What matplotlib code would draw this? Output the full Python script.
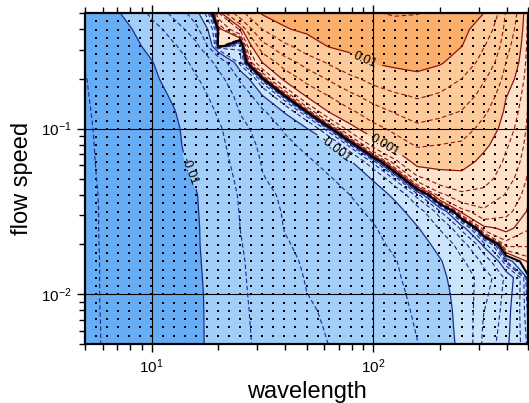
import numpy as np
import matplotlib
matplotlib.use('Agg')
import matplotlib.pyplot as plt
from matplotlib.ticker import LogLocator, NullFormatter

plt.rcParams['font.family'] = ['Liberation Sans', 'DejaVu Sans']
plt.rcParams['lines.dashed_pattern'] = [4.0, 2.4]

# ---------------------------------------------------------------------------
# Data: growth rate (units of 1e-3) sampled on a log grid
# ---------------------------------------------------------------------------

wavelength = [5.0, 6.31, 7.94, 10.0, 12.6, 15.8, 20.0, 25.1, 31.6, 39.8, 50.1,
              63.1, 79.4, 100.0, 126, 158, 200, 251, 316, 398, 500]

# rows listed from the top of the plot (fast flow) down to the bottom
speed = [0.5, 0.398, 0.316, 0.251, 0.2, 0.158, 0.126, 0.1, 0.0794, 0.0631,
         0.0501, 0.0398, 0.0316, 0.0251, 0.02, 0.0158, 0.0126, 0.01, 0.00794,
         0.00631, 0.005]

rate_e3 = [
    [-14.8, -11.8, -8.55, -4.73, -2.51, -1.21, 0.5, 4.5, 10.6, 11.8, 13.1, 14.5, 15.9, 17.5, 18.4, 18.0, 16.5, 12.5, 10.0, 2.9, 0.5],
    [-15.5, -12.8, -10.4, -6.93, -4.15, -2.05, 0.02, 0.6, 5.6, 9.6, 11.0, 12.2, 13.4, 14.5, 15.5, 15.9, 14.0, 11.2, 7.5, 2.5, 0.47],
    [-16.5, -13.7, -11.3, -8.75, -5.94, -3.61, 0.1, -0.3, 2.43, 4.8, 7.6, 10.3, 11.3, 12.3, 13.1, 13.5, 12.0, 10.1, 5.8, 2.1, 0.44],
    [-17.5, -14.6, -12.2, -10.2, -7.23, -4.79, -2.61, -0.36, 1.0, 2.3, 3.9, 6.0, 8.45, 10.3, 11.0, 11.3, 10.5, 7.6, 4.4, 1.75, 0.4],
    [-18.0, -15.2, -12.8, -10.8, -8.3, -5.9, -3.72, -1.57, -0.046, 1.16, 2.1, 3.34, 4.9, 6.7, 8.2, 9.1, 7.6, 5.6, 3.35, 1.35, 0.37],
    [-18.2, -15.6, -13.3, -11.4, -9.45, -6.8, -4.48, -2.53, -1.02, -0.0075, 1.08, 1.8, 2.8, 4.0, 5.1, 6.0, 5.2, 4.1, 2.5, 1.03, 0.33],
    [-18.4, -15.9, -13.7, -11.8, -10.2, -7.5, -5.28, -3.08, -1.94, -0.95, -0.018, 1.0, 1.6, 2.4, 3.3, 4.1, 3.6, 3.05, 1.94, 0.85, 0.3],
    [-18.6, -16.1, -14.1, -12.2, -10.6, -8.3, -6.0, -3.64, -2.43, -1.64, -1.03, -0.103, 0.81, 1.45, 2.05, 2.74, 2.5, 2.2, 1.46, 0.72, 0.27],
    [-18.7, -16.3, -14.2, -12.4, -10.7, -8.65, -6.33, -4.11, -2.76, -2.06, -1.5, -1.045, -0.168, 0.69, 1.32, 1.87, 1.75, 1.65, 1.12, 0.6, 0.24],
    [-18.8, -16.4, -14.4, -12.5, -10.9, -9.03, -6.64, -4.56, -3.03, -2.41, -1.94, -1.45, -1.02, -0.235, 0.46, 1.24, 1.2, 1.2, 0.85, 0.5, 0.2],
    [-18.9, -16.6, -14.5, -12.8, -11.2, -9.7, -7.03, -4.95, -3.24, -2.65, -2.21, -1.85, -1.37, -0.94, -0.228, 0.46, 0.8, 0.85, 0.68, 0.4, 0.16],
    [-19.0, -16.8, -14.8, -13.1, -11.6, -10.2, -7.5, -5.3, -3.64, -2.84, -2.43, -2.07, -1.76, -1.29, -0.87, -0.218, 0.25, 0.5, 0.48, 0.3, 0.12],
    [-19.0, -16.9, -14.9, -13.2, -11.7, -10.3, -7.75, -5.47, -3.94, -2.99, -2.6, -2.26, -1.96, -1.62, -1.19, -0.715, -0.186, 0.12, 0.28, 0.21, 0.09],
    [-19.0, -16.9, -14.9, -13.2, -11.7, -10.4, -7.9, -5.61, -4.16, -3.11, -2.73, -2.39, -2.1, -1.84, -1.41, -1.035, -0.524, -0.13, 0.08, 0.12, 0.06],
    [-19.1, -16.9, -15.0, -13.3, -11.8, -10.4, -8.1, -5.75, -4.36, -3.28, -2.84, -2.5, -2.2, -1.95, -1.63, -1.22, -0.835, -0.383, -0.069, 0.04, 0.035],
    [-19.1, -17.0, -15.1, -13.4, -11.9, -10.5, -8.25, -5.89, -4.55, -3.52, -2.95, -2.61, -2.31, -2.04, -1.81, -1.39, -1.04, -0.611, -0.247, -0.018, 0.012],
    [-19.1, -17.0, -15.1, -13.5, -12.0, -10.6, -8.38, -5.94, -4.68, -3.72, -3.06, -2.71, -2.39, -2.11, -1.87, -1.49, -1.11, -0.748, -0.407, -0.144, -0.002],
    [-19.1, -17.0, -15.2, -13.5, -12.0, -10.7, -8.5, -6.0, -4.79, -3.89, -3.18, -2.8, -2.47, -2.18, -1.93, -1.6, -1.18, -0.78, -0.36, -0.13, -0.008],
    [-19.2, -17.0, -15.2, -13.5, -12.0, -10.7, -8.59, -6.07, -4.88, -4.04, -3.37, -2.91, -2.55, -2.24, -1.97, -1.68, -1.24, -0.8, -0.32, -0.12, -0.013],
    [-19.2, -17.1, -15.2, -13.5, -12.0, -10.7, -8.63, -6.12, -4.96, -4.17, -3.52, -3.02, -2.64, -2.31, -2.01, -1.74, -1.27, -0.82, -0.28, -0.115, -0.019],
    [-19.2, -17.1, -15.2, -13.5, -12.0, -10.7, -8.69, -6.18, -5.03, -4.27, -3.66, -3.14, -2.73, -2.37, -2.06, -1.79, -1.32, -0.84, -0.25, -0.11, -0.025],
]

# ---------------------------------------------------------------------------
# Styling
# ---------------------------------------------------------------------------

band_edges = [-1, -1e-2, -1e-3, 0, 1e-3, 1e-2, 1]
band_colors = ['#66adf5', '#a1cffa', '#cae5fb', '#fee3c8', '#fdca99', '#faae69']
neg_color = '#1c2a8c'
pos_color = '#8e1616'

exps = np.arange(-20, -6) / 4.0          # quarter-decade contour steps
dash_mag = [10.0 ** e for e in exps if e != int(e)]
small_mag = [1e-5, 1e-4]                  # solid, unlabelled
label_mag = [1e-3, 1e-2]                  # solid, labelled

wl = np.array(wavelength)
sp = np.array(speed)[::-1]
rate = np.array(rate_e3)[::-1] * 1e-3

fig = plt.figure(figsize=(5.29, 4.03), dpi=100)
ax = fig.add_axes([85 / 529, 59 / 403, 443 / 529, 331 / 403])
ax.set_xscale('log')
ax.set_yscale('log')

ax.contourf(wl, sp, rate, levels=band_edges, colors=band_colors, zorder=1)

# sample points of the underlying run
gx, gy = np.meshgrid(np.logspace(np.log10(5), np.log10(500), 41),
                     np.logspace(np.log10(0.005), np.log10(0.5), 41))
ax.plot(gx.ravel(), gy.ravel(), 's', ms=1.45, mew=0, color='k',
        antialiased=False, zorder=2)

ax.grid(True, which='major', color='k', lw=0.8, zorder=3)
ax.set_axisbelow(False)


def lines(levels, color, style, lw):
    return ax.contour(wl, sp, rate, levels=sorted(levels), colors=color,
                      linestyles=style, linewidths=lw, zorder=4)


lines([-m for m in dash_mag], neg_color, 'dashed', 0.8)
lines(dash_mag, pos_color, 'dashed', 0.8)
lines([-m for m in small_mag], neg_color, 'solid', 0.9)
lines(small_mag, pos_color, 'solid', 0.9)
cs_neg = lines([-m for m in label_mag], neg_color, 'solid', 0.9)
cs_pos = lines(label_mag, pos_color, 'solid', 0.9)
ax.contour(wl, sp, rate, levels=[0], colors='k', linewidths=1.5, zorder=5)

fmt = lambda v: f"{v:.2g}"
ax.clabel(cs_neg, fmt=fmt, fontsize=9, colors='k', inline=True,
          manual=[(15.3, 0.0564), (68, 0.0766)])
ax.clabel(cs_pos, fmt=fmt, fontsize=9, colors='k', inline=True,
          manual=[(111, 0.0776), (88.5, 0.233)])

ax.set_xlim(5, 500)
ax.set_ylim(0.005, 0.5)
ax.xaxis.set_major_locator(LogLocator(base=10, numticks=10))
ax.yaxis.set_major_locator(LogLocator(base=10, numticks=10))
ax.xaxis.set_minor_locator(LogLocator(base=10, subs=np.arange(2, 10), numticks=20))
ax.yaxis.set_minor_locator(LogLocator(base=10, subs=np.arange(2, 10), numticks=20))
ax.xaxis.set_minor_formatter(NullFormatter())
ax.yaxis.set_minor_formatter(NullFormatter())
ax.tick_params(which='both', direction='out', top=True, right=True, width=1.0,
               labelsize=11, color='k')
ax.tick_params(which='major', length=6)
ax.tick_params(which='minor', length=4)
for s in ax.spines.values():
    s.set_linewidth(1.6)
    s.set_zorder(6)

ax.set_xlabel('wavelength', fontsize=17, labelpad=4)
ax.set_ylabel('flow speed', fontsize=17, labelpad=6)

fig.savefig('out.png', dpi=100)
